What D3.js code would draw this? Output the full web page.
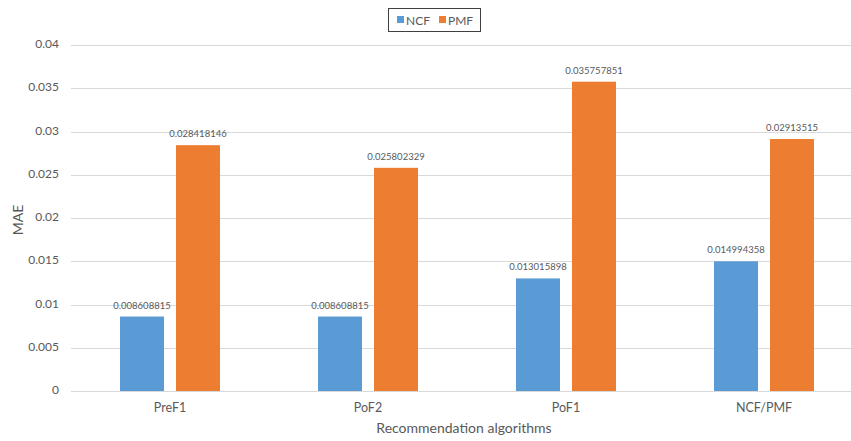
<!DOCTYPE html>
<html>
<head>
  <meta charset="utf-8">
  <title>MAE by recommendation algorithm</title>
  <style>
    body { margin: 0; background: #fff; }
    text { font-family: Lato, "Open Sans", sans-serif; fill: #595959; }
    .grid line { stroke: #d9d9d9; stroke-width: 1; }
    .tick_label { font-size: 12px; text-anchor: end; dominant-baseline: middle; }
    .cat_label { font-size: 12.5px; text-anchor: middle; }
    .val_label { font-size: 9.5px; text-anchor: middle; }
    .axis_title { font-size: 14px; text-anchor: middle; }
    .legend_text { font-size: 12px; }
  </style>
</head>
<body>
  <svg id="canvas"></svg>
  <script src="https://cdn.jsdelivr.net/npm/d3@7"></script>
  <script>
    const categories = ["PreF1", "PoF2", "PoF1", "NCF/PMF"];
    const series_names = ["NCF", "PMF"];
    const ncf_values = [0.008608815, 0.008608815, 0.013015898, 0.014994358];
    const pmf_values = [0.028418146, 0.025802329, 0.035757851, 0.02913515];
    const value_labels = [
      ["0.008608815", "0.008608815", "0.013015898", "0.014994358"],
      ["0.028418146", "0.025802329", "0.035757851", "0.02913515"]
    ];
    const y_ticks = [0, 0.005, 0.01, 0.015, 0.02, 0.025, 0.03, 0.035, 0.04];
    const colors = ["#5b9bd5", "#ed7d31"];

    const width = 851, height = 441;
    const dims = { left: 71, top: 45, bottom: 391, bar_w: 44, bar_gap: 12 };

    const svg = d3.select("#canvas").attr("width", width).attr("height", height);

    const x = d3.scaleBand().domain(categories).range([dims.left, 863]);
    const y = d3.scaleLinear().domain([0, 0.04]).range([dims.bottom, dims.top]);

    // gridlines
    svg.append("g").attr("class", "grid")
      .selectAll("line").data(y_ticks).enter().append("line")
      .attr("x1", dims.left).attr("x2", width)
      .attr("y1", t => Math.round(y(t)) + 0.5).attr("y2", t => Math.round(y(t)) + 0.5);

    svg.append("g").selectAll("text").data(y_ticks).enter().append("text")
      .attr("class", "tick_label")
      .attr("x", 59).attr("y", t => y(t))
      .text(t => d3.format("")(t));

    const rows = [];
    [ncf_values, pmf_values].forEach((vals, s) => {
      vals.forEach((v, i) => rows.push({ s: s, cat: categories[i], v: v, label: value_labels[s][i] }));
    });

    const bar_x = r => x(r.cat) + x.bandwidth() / 2 + (r.s === 0 ? -(dims.bar_gap / 2 + dims.bar_w) : dims.bar_gap / 2);

    svg.append("g").selectAll("rect").data(rows).enter().append("rect")
      .attr("x", bar_x)
      .attr("y", r => y(r.v))
      .attr("width", dims.bar_w)
      .attr("height", r => dims.bottom - y(r.v))
      .attr("fill", r => colors[r.s]);

    svg.append("g").selectAll("text").data(rows).enter().append("text")
      .attr("class", "val_label")
      .attr("x", r => bar_x(r) + dims.bar_w / 2)
      .attr("y", r => y(r.v) - 8)
      .text(r => r.label);

    svg.append("g").selectAll("text").data(categories).enter().append("text")
      .attr("class", "cat_label")
      .attr("x", c => x(c) + x.bandwidth() / 2)
      .attr("y", 412)
      .text(c => c);

    svg.append("text").attr("class", "axis_title")
      .attr("x", 464).attr("y", 433)
      .text("Recommendation algorithms");

    svg.append("text").attr("class", "axis_title")
      .attr("transform", "translate(23,220)rotate(-90)")
      .text("MAE");

    // legend
    const legend = svg.append("g");
    legend.append("rect")
      .attr("x", 388.5).attr("y", 8.5).attr("width", 92).attr("height", 23)
      .attr("fill", "#fff").attr("stroke", "#404040").attr("stroke-width", 1);
    const leg_x = [397, 439];
    series_names.forEach((n, i) => {
      legend.append("rect").attr("x", leg_x[i]).attr("y", 16).attr("width", 7).attr("height", 7).attr("fill", colors[i]);
      legend.append("text").attr("class", "legend_text").attr("x", leg_x[i] + 9).attr("y", 24.5).text(n);
    });
  </script>
</body>
</html>
